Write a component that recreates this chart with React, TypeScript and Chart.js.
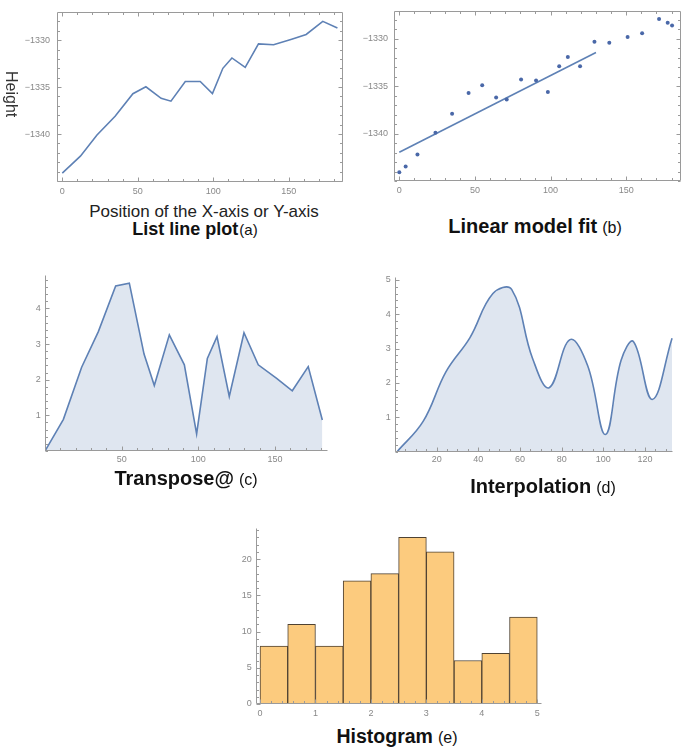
import React, { useEffect, useRef } from "react";
import { Chart, registerables } from "chart.js";

Chart.register(...registerables);

const FONT = "'Liberation Sans', Arial, Helvetica, sans-serif";
Chart.defaults.font.family = FONT;

// ---------- data ----------
// (a) List line plot
const aX = [0, 12, 23, 35, 46.8, 55.4, 65.5, 72, 81.5, 91.4, 99.5, 106.4, 112.4, 121.2, 130, 140, 152, 161.6, 172.6, 182.3];
const aY = [-1344.15, -1342.35, -1340.1, -1338.1, -1335.7, -1334.97, -1336.2, -1336.5, -1334.4, -1334.4, -1335.7, -1333.0, -1331.9, -1332.9, -1330.4, -1330.5, -1329.9, -1329.4, -1328.0, -1328.7];

// (b) Linear model fit
const bX = [0, 4.2, 12, 23.9, 34.9, 45.8, 54.8, 64, 71, 80.5, 90.4, 98.2, 105.7, 111.4, 119.5, 129, 138.8, 150.9, 160.5, 171.7, 177.4, 180.3];
const bY = [-1344.07, -1343.46, -1342.2, -1339.9, -1337.9, -1335.7, -1334.9, -1336.2, -1336.4, -1334.3, -1334.4, -1335.6, -1332.9, -1331.9, -1332.9, -1330.3, -1330.4, -1329.8, -1329.4, -1327.9, -1328.3, -1328.6];
const fitX = [0, 130];
const fitY = [-1341.96, -1331.44];

// (c) Transpose@
const cX = [0, 12, 23.9, 34.8, 46.1, 55, 64.6, 71.3, 81.1, 90.9, 98.9, 105.9, 112.2, 120.2, 129.8, 139.1, 151.1, 161.3, 171.7, 180.9];
const cY = [0, 0.89, 2.35, 3.35, 4.63, 4.71, 2.72, 1.84, 3.26, 2.42, 0.48, 2.6, 3.21, 1.53, 3.32, 2.42, 2.04, 1.69, 2.37, 0.87];

// (d) Interpolation
const dX = [1, 13.5, 24.5, 36, 47, 56, 66, 74, 84, 92.5, 101, 108.5, 114.5, 123.5, 133];
const dY = [0, 0.88, 2.33, 3.32, 4.6, 4.72, 2.72, 1.86, 3.26, 2.5, 0.5, 2.65, 3.2, 1.52, 3.3];

// (e) Histogram
const binEdges = [0, 0.5, 1, 1.5, 2, 2.5, 3, 3.5, 4, 4.5, 5];
const binCounts = [8, 11, 8, 17, 18, 23, 21, 6, 7, 12];

// tick labels
const abXTicks = [0, 50, 100, 150];
const abYTicks = [-1340, -1335, -1330];
const cXTicks = [50, 100, 150];
const cYTicks = [1, 2, 3, 4];
const dXTicks = [20, 40, 60, 80, 100, 120];
const dYTicks = [1, 2, 3, 4, 5];
const eXTicks = [0, 1, 2, 3, 4, 5];
const eYTicks = [0, 5, 10, 15, 20];

// ---------- styles ----------
const BLUE = "#5E81B5";
const DOT = "#4A68A8";
const FILL = "rgba(94,129,181,0.2)";
const AXIS = "#9a9a9a";
const LABEL = "#888888";

const pts = (xs: number[], ys: number[]) => xs.map((x, i) => ({ x, y: ys[i] }));

const minorVals = (min: number, max: number, step: number) => {
  const out: number[] = [];
  const k0 = Math.ceil(min / step - 1e-9);
  const k1 = Math.floor(max / step + 1e-9);
  for (let k = k0; k <= k1; k++) out.push(+(k * step).toFixed(6));
  return out;
};

const mmaAxes = {
  id: "mmaAxes",
  afterDatasetsDraw(chart: any, _a: any, o: any) {
    if (!o || !o.enabled) return;
    const { ctx, chartArea: ca } = chart;
    const xs = chart.scales.x;
    const ys = chart.scales.y;
    const L = Math.round(ca.left) + 0.5;
    const R = Math.round(ca.right) - 0.5;
    const T = Math.round(ca.top) + 0.5;
    const B = Math.round(ca.bottom) - 0.5;
    ctx.save();
    ctx.strokeStyle = o.color;
    ctx.lineWidth = 1;
    ctx.beginPath();
    if (o.frame) {
      ctx.rect(L, T, R - L, B - T);
    } else {
      ctx.moveTo(L, T);
      ctx.lineTo(L, B);
      ctx.lineTo(R, B);
    }
    const isMajor = (v: number, majors: number[]) => majors.some((m) => Math.abs(m - v) < 1e-6);
    const xMaj: number[] = o.xMajor;
    const yMaj: number[] = o.yMajor;
    const xAll = minorVals(xs.min, xs.max, o.xMinor);
    const yAll = minorVals(ys.min, ys.max, o.yMinor);
    const majLen = o.majLen || 4;
    const minLen = o.minLen || 2.5;
    xAll.forEach((v) => {
      const len = isMajor(v, xMaj) ? majLen : minLen;
      const px = Math.round(xs.getPixelForValue(v)) + 0.5;
      ctx.moveTo(px, B);
      ctx.lineTo(px, B - len);
      if (o.frame) {
        ctx.moveTo(px, T);
        ctx.lineTo(px, T + len);
      }
    });
    yAll.forEach((v) => {
      const len = isMajor(v, yMaj) ? majLen : minLen;
      const py = Math.round(ys.getPixelForValue(v)) + 0.5;
      ctx.moveTo(L, py);
      ctx.lineTo(L + len, py);
      if (o.frame) {
        ctx.moveTo(R, py);
        ctx.lineTo(R - len, py);
      }
    });
    ctx.stroke();
    ctx.restore();
  },
};
Chart.register(mmaAxes);

const fmt = (v: number) => (v < 0 ? "\u2212" + Math.abs(v) : String(v));

type PanelCfg = {
  left: number; top: number; width: number; height: number;
  yw: number; xh: number; pt: number; pr: number;
  xMin: number; xMax: number; yMin: number; yMax: number;
  xTicks: number[]; yTicks: number[]; xMinor: number; yMinor: number;
  xPad: number; yPad: number; frame: boolean;
  type: string; datasets: any[]; xOffset?: boolean;
};

function Panel({ cfg }: { cfg: PanelCfg }) {
  const ref = useRef<HTMLCanvasElement>(null);
  useEffect(() => {
    const tickFont = { size: 9, family: FONT };
    const chart = new Chart(ref.current as HTMLCanvasElement, {
      type: cfg.type as any,
      data: { datasets: cfg.datasets },
      options: {
        animation: false,
        responsive: false,
        devicePixelRatio: 1,
        layout: { padding: { top: cfg.pt, right: cfg.pr, left: 0, bottom: 0 }, autoPadding: false },
        plugins: {
          legend: { display: false },
          tooltip: { enabled: false },
          mmaAxes: {
            enabled: true, frame: cfg.frame, color: AXIS,
            xMajor: cfg.xTicks, yMajor: cfg.yTicks, xMinor: cfg.xMinor, yMinor: cfg.yMinor,
          },
        } as any,
        scales: {
          x: {
            type: "linear",
            min: cfg.xMin, max: cfg.xMax,
            offset: false,
            grid: { display: false, drawTicks: false, offset: false },
            border: { display: false },
            ticks: { font: tickFont, color: LABEL, padding: cfg.xPad, maxRotation: 0, autoSkip: false, callback: (v: any) => fmt(Number(v)) },
            afterBuildTicks: (s: any) => { s.ticks = cfg.xTicks.map((v) => ({ value: v })); },
            afterFit: (s: any) => { s.height = cfg.xh; },
          },
          y: {
            type: "linear",
            min: cfg.yMin, max: cfg.yMax,
            grid: { display: false, drawTicks: false },
            border: { display: false },
            ticks: { font: tickFont, color: LABEL, padding: cfg.yPad, autoSkip: false, callback: (v: any) => fmt(Number(v)) },
            afterBuildTicks: (s: any) => { s.ticks = cfg.yTicks.map((v) => ({ value: v })); },
            afterFit: (s: any) => { s.width = cfg.yw; },
          },
        } as any,
      } as any,
    });
    return () => chart.destroy();
  }, []);
  return (
    <canvas
      ref={ref}
      width={cfg.width}
      height={cfg.height}
      style={{ position: "absolute", left: cfg.left, top: cfg.top, width: cfg.width, height: cfg.height }}
    />
  );
}

const panelA: PanelCfg = {
  left: 0, top: 0, width: 350, height: 200, yw: 57, xh: 18, pt: 5, pr: 7,
  xMin: -3.5, xMax: 186, yMin: -1345.1, yMax: -1327.05,
  xTicks: abXTicks, yTicks: abYTicks, xMinor: 10, yMinor: 1, xPad: 4, yPad: 7, frame: true,
  type: "line",
  datasets: [{ data: pts(aX, aY), borderColor: BLUE, borderWidth: 1.6, pointRadius: 0, tension: 0, fill: false }],
};

const panelB: PanelCfg = {
  left: 340, top: 0, width: 345, height: 200, yw: 54, xh: 19, pt: 5, pr: 4,
  xMin: -3.5, xMax: 186.2, yMin: -1345.0, yMax: -1327.1,
  xTicks: abXTicks, yTicks: abYTicks, xMinor: 10, yMinor: 1, xPad: 4, yPad: 6, frame: true,
  type: "scatter",
  datasets: [
    { data: pts(bX, bY), backgroundColor: DOT, borderColor: DOT, pointRadius: 2, pointBorderWidth: 0, showLine: false },
    { data: pts(fitX, fitY), borderColor: BLUE, borderWidth: 1.6, pointRadius: 0, showLine: true },
  ],
};

const panelC: PanelCfg = {
  left: 0, top: 260, width: 345, height: 215, yw: 45, xh: 24, pt: 15, pr: 17,
  xMin: 0, xMax: 184.6, yMin: 0, yMax: 4.94,
  xTicks: cXTicks, yTicks: cYTicks, xMinor: 10, yMinor: 0.2, xPad: 3, yPad: 4.3, frame: false,
  type: "line",
  datasets: [{ data: pts(cX, cY), borderColor: BLUE, borderWidth: 1.6, pointRadius: 0, tension: 0, fill: "origin", backgroundColor: FILL }],
};

const panelD: PanelCfg = {
  left: 340, top: 260, width: 345, height: 215, yw: 55, xh: 23.3, pt: 16.7, pr: 11.7,
  xMin: 0, xMax: 133.6, yMin: 0, yMax: 5.09,
  xTicks: dXTicks, yTicks: dYTicks, xMinor: 5, yMinor: 0.2, xPad: 2.6, yPad: 4.3, frame: false,
  type: "line",
  datasets: [{ data: pts(dX, dY), borderColor: BLUE, borderWidth: 1.6, pointRadius: 0, tension: 0.4, cubicInterpolationMode: "default", fill: "origin", backgroundColor: FILL }],
};

const panelE: PanelCfg = {
  left: 200, top: 515, width: 360, height: 205, yw: 56, xh: 16, pt: 13, pr: 18.3,
  xMin: -0.072, xMax: 5.08, yMin: 0, yMax: 24.3,
  xTicks: eXTicks, yTicks: eYTicks, xMinor: 0.2, yMinor: 1, xPad: 4, yPad: 4.3, frame: false,
  type: "bar",
  datasets: [{
    data: binCounts.map((c, i) => ({ x: (binEdges[i] + binEdges[i + 1]) / 2, y: c })),
    backgroundColor: "#FCCB7E", borderColor: "#4f4232", borderWidth: 1, borderSkipped: false,
    barPercentage: 1, categoryPercentage: 1,
  }],
};

function Title({ cx, top, size, sub, subSize, gap, children }: any) {
  return (
    <div
      style={{
        position: "absolute", left: cx - 150, width: 300, top, textAlign: "center",
        fontFamily: FONT, fontSize: size, lineHeight: 1, fontWeight: "bold", color: "#111", whiteSpace: "nowrap",
      }}
    >
      {children}
      <span style={{ fontWeight: "normal", fontSize: subSize, marginLeft: gap }}>{sub}</span>
    </div>
  );
}

export default function App() {
  return (
    <div style={{ position: "absolute", left: 0, top: 0, width: 685, height: 750, background: "#fff", overflow: "hidden" }}>
      <Panel cfg={panelA} />
      <Panel cfg={panelB} />
      <Panel cfg={panelC} />
      <Panel cfg={panelD} />
      <Panel cfg={panelE} />
      <div
        style={{
          position: "absolute", left: 3, top: 71, writingMode: "vertical-rl" as any,
          fontFamily: FONT, fontSize: 16, lineHeight: 1, color: "#333",
        }}
      >
        Height
      </div>
      <div
        style={{
          position: "absolute", left: 54, width: 300, top: 202.6, textAlign: "center",
          fontFamily: FONT, fontSize: 17, lineHeight: 1, color: "#222", whiteSpace: "nowrap",
        }}
      >
        Position of the X-axis or Y-axis
      </div>
      <Title cx={195} top={219.8} size={18} sub="(a)" subSize={15} gap={1}>List line plot</Title>
      <Title cx={535} top={216} size={20} sub="(b)" subSize={16} gap={5}>Linear model fit</Title>
      <Title cx={186} top={468} size={20} sub="(c)" subSize={16} gap={5}>Transpose@</Title>
      <Title cx={543} top={476.4} size={20} sub="(d)" subSize={16} gap={5}>Interpolation</Title>
      <Title cx={397} top={726.8} size={19.5} sub="(e)" subSize={16} gap={5}>Histogram</Title>
    </div>
  );
}
